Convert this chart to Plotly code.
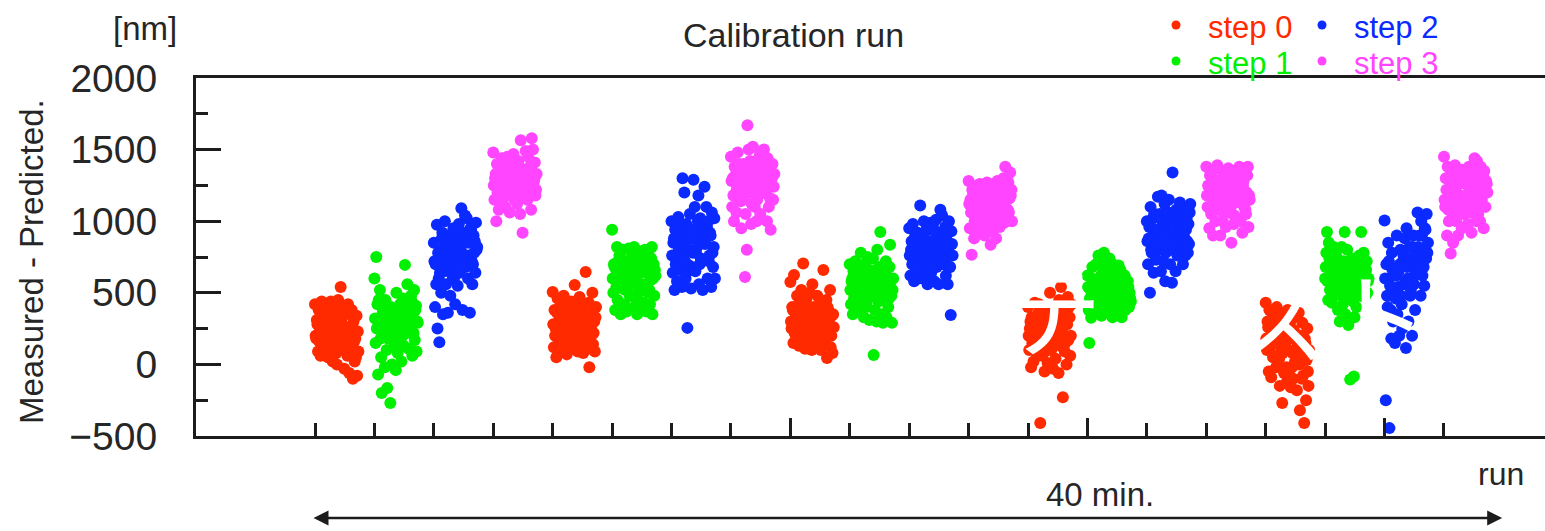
import plotly.graph_objects as go

# Measured - Predicted offset [nm] for every run, one inner list per calibration cycle
step0 = [
    [420, 200, 180, 310, 280, 90, 380, 160, 250, 60, 240, 440, 150, 310, 330, 210, 190, 100,
     270, 220, 400, 50, 150, 350, 130, 290, 440, 230, 260, 20, 300, 180, 170, 380, 320, 80,
     0, 230, 450, 200, 140, 320, 540, 300, 110, 260, 190, 400, -30, 260, 350, 150, 120, 60,
     420, 200, -60, 240, 110, 130, 380, 270, -100, 300, 160, 20, 180, 50, 340, -80, 230, 90],
    [505, 280, 120, 380, 200, 250, 50, 360, 460, 180, 240, 310, 90, 320, 420, 220, 170, 340,
     480, 240, 150, 290, 330, 70, 400, 190, 210, 350, 280, 110, 440, 370, 260, 130, 220, 320,
     555, 260, 200, 380, 320, 90, 300, 180, 470, 160, 400, 240, 420, 230, 80, 350, 290, 190,
     645, 250, 270, 110, 340, 430, -20, 180, 360, 200, 280, 500, 140, 220, 300, 90, 330, 400],
    [575, 300, 250, 400, 380, 150, 625, 220, 320, 200, 340, 480, 280, 260, 130, 430, 410, 350,
     520, 330, 180, 705, 240, 300, 110, 400, 450, 240, 290, 380, 160, 210, 500, 270, 360, 100,
     560, 310, 220, 400, 260, 130, 340, 380, 480, 190, 200, 290, 420, 330, 100, 360, 280, 250,
     660, 320, 300, 150, 240, 450, 45, 400, 380, 210, 280, 520, 120, 200, 340, 80, 350, 260],
    [400, 200, 100, 250, 300, -20, 330, 150, 180, 20, 240, 430, 140, 320, 280, 60, 120, 360,
     420, 260, -410, 200, 180, 60, 350, 320, 120, -50, 90, 300, 230, 240, 10, 380, 140, 160,
     500, 250, 100, 280, 310, -30, 400, 160, 180, 40, 360, 340, 220, 200, -60, 450, 280, 130,
     540, 220, 250, -230, 350, 380, 90, 150, 300, 0, 280, 470, 170, 400, 330, 60, 200, 420],
    [430, 180, 100, 300, 260, -50, 380, 120, 200, -90, 320, 250, 50, 60, 350, 150, 220, -20,
     400, 150, 0, 260, 40, -150, 320, 230, 100, -270, 80, 200, -60, 180, 360, 120, -20, -120,
     380, 100, -40, 250, 180, -160, 310, -20, 80, -100, 240, 200, 20, 60, 340, -180, 130, 150,
     360, 0, -320, 200, 120, -100, 290, -80, 50, -410, 180, 150, -250, 30, 250, -50, -150, 100],
]

step1 = [
    [600, 320, 150, 750, 250, 420, -70, 450, 300, 520, 180, 50, -200, 350, 380, 230, 280, -20,
     450, 280, 100, -165, 180, 330, 200, 360, -270, 400, 220, 0, 260, 300, 120, 350, 150, -40,
     500, 300, 80, 320, 240, 180, 420, 380, 20, 280, 200, 460, 130, 330, 695, 360, 260, 220,
     560, 350, 110, 400, 280, 250, 480, 440, 60, 330, 220, 520, 170, 380, 410, 90, 300, 290],
    [940, 600, 500, 700, 680, 380, 620, 540, 820, 450, 720, 560, 760, 580, 350, 660, 640, 530,
     800, 620, 420, 600, 520, 720, 370, 680, 540, 810, 560, 480, 650, 740, 390, 700, 600, 580,
     820, 580, 460, 610, 660, 350, 750, 500, 520, 680, 640, 400, 790, 720, 560, 430, 540, 710,
     800, 560, 370, 640, 680, 500, 760, 520, 420, 590, 740, 820, 350, 600, 700, 480, 660, 620],
    [700, 520, 420, 580, 600, 350, 650, 460, 480, 720, 640, 380, 540, 560, 620, 400, 500, 690,
     780, 580, 460, 620, 520, 330, 700, 640, 520, 400, 440, 750, 560, 600, 310, 660, 540, 480,
     500, 560, 740, 65, 480, 380, 600, 620, 300, 800, 520, 440, 680, 650, 925, 350, 460, 560,
     290, 540, 620, 450, 500, 720, 330, 620, 560, 400, 460, 680, 835, 580, 480, 290, 520, 600],
    [620, 540, 380, 150, 460, 520, 325, 600, 680, 450, 420, 580, 400, 560, 700, 500, 480, 360,
     760, 540, 420, 600, 620, 340, 680, 480, 500, 780, 580, 440, 560, 660, 720, 380, 520, 640,
     740, 580, 450, 620, 500, 330, 700, 640, 520, 400, 540, 660, 560, 600, 350, 690, 460, 480,
     660, 560, 330, 540, 480, 420, 600, 620, 380, 520, 500, 460, 580, 540, 400, 500, 460, 440],
    [600, 680, 780, 925, 580, 450, 850, 740, 520, 700, 620, 430, 640, 540, 820, 480, 660, 560,
     760, 640, 500, 380, 560, 680, 300, 700, 600, 820, 480, 420, 720, 620, 925, 350, 580, 540,
     800, 600, 275, 650, 520, -105, 480, 680, 740, 560, 440, -85, 330, 560, 700, 400, 640, 620,
     520, 620, 760, 480, 560, 925, 680, 700, 560, 780, 540, 470, 640, 660, 720, 500, 580, 600],
]

step2 = [
    [850, 720, 400, 700, 560, 975, 250, 780, 600, 155, 640, 800, 500, 880, 920, 350, 700, 650,
     1000, 740, 560, 760, 820, 360, 900, 680, 650, 480, 880, 830, 700, 600, 950, 600, 780, 420,
     720, 820, 880, 550, 700, 980, 640, 900, 800, 1090, 760, 380, 920, 860, 690, 1040, 680, 760,
     1020, 880, 600, 850, 760, 360, 950, 940, 720, 560, 700, 900, 780, 860, 640, 990, 800, 820],
    [1000, 760, 640, 850, 880, 520, 940, 700, 720, 580, 960, 1030, 800, 820, 660, 900, 740, 540,
     1300, 840, 760, 1200, 720, 600, 980, 940, 255, 870, 800, 690, 1050, 660, 530, 920, 880, 780,
     1290, 900, 1100, 650, 780, 950, 820, 1000, 1180, 560, 700, 1020, 740, 860, 880, 520, 940, 970,
     1240, 840, 880, 1100, 960, 600, 1000, 720, 760, 920, 900, 540, 1060, 780, 680, 820, 1020, 600],
    [950, 760, 620, 800, 860, 700, 980, 700, 580, 870, 900, 740, 660, 780, 920, 600, 840, 820,
     1110, 820, 700, 900, 760, 600, 1000, 880, 780, 650, 700, 950, 560, 940, 860, 720, 800, 990,
     640, 800, 850, 960, 720, 580, 780, 880, 1010, 680, 760, 900, 560, 920, 820, 1080, 700, 740,
     1040, 860, 700, 890, 740, 960, 620, 900, 800, 560, 800, 1000, 680, 680, 345, 930, 840, 760],
    [1000, 860, 700, 880, 960, 500, 1100, 800, 780, 950, 1020, 640, 1050, 900, 820, 730, 840, 920,
     1170, 940, 800, 1050, 840, 650, 1180, 1000, 900, 720, 900, 1120, 580, 780, 980, 860, 960, 1060,
     1150, 880, 700, 1000, 980, 570, 1340, 800, 820, 950, 920, 650, 1080, 1020, 760, 900, 860, 1040,
     1130, 920, 800, 960, 1000, 700, 1080, 860, 880, 760, 940, 1020, 860, 780, 980, 840, 1060, 1120],
    [1005, 600, -250, 700, 480, 400, 850, 720, -445, 550, 380, 180, 780, 660, 300, 620, 520, 150,
     460, 620, 900, 350, 540, 650, 200, 700, 800, 480, 420, 250, 720, 760, 560, 880, 580, 115,
     950, 680, 600, 300, 740, 820, 480, 520, 700, 200, 820, 900, 560, 620, 380, 760, 700, 640,
     1060, 820, 700, 900, 760, 480, 1000, 900, 620, 800, 680, 550, 950, 940, 740, 1050, 780, 850],
]

step3 = [
    [1480, 1250, 1150, 1300, 1330, 1000, 1400, 1200, 1220, 1080, 1380, 1350, 1260, 1280, 1440, 1120, 1180, 1310,
     1380, 1300, 1100, 1250, 1220, 1450, 1180, 1360, 1330, 1060, 1260, 1410, 1280, 1320, 1200, 1470, 1240, 1150,
     1230, 1300, 1360, 1120, 1200, 1420, 1280, 1380, 1050, 1565, 1250, 1190, 920, 1320, 1340, 1260, 1160, 1490,
     1300, 1260, 1150, 1450, 1350, 1230, 1380, 1200, 1080, 1580, 1400, 1500, 1270, 1290, 1410, 1180, 1220, 1330],
    [1450, 1280, 1100, 1300, 1180, 1000, 1380, 1320, 1200, 1060, 1230, 1480, 1250, 1400, 1150, 1350, 1140, 950,
     1150, 1260, 1400, 1300, 1180, 610, 1050, 1340, 800, 1670, 1220, 1500, 1200, 1420, 1350, 980, 1120, 1250,
     1520, 1250, 1280, 1100, 1330, 1420, 1000, 1150, 1350, 1180, 1380, 1460, 1050, 1200, 1300, 1230, 1290, 1400,
     1500, 1280, 1200, 1380, 1220, 1000, 1440, 1350, 1100, 1320, 1160, 940, 1250, 1300, 1400, 1150, 1240, 1330],
    [1280, 1120, 950, 1150, 1060, 765, 1220, 1180, 1050, 880, 1000, 1200, 1000, 1240, 1250, 920, 1080, 1100,
     1260, 1100, 980, 1150, 1200, 1230, 1040, 1050, 900, 1180, 1160, 1080, 1270, 1220, 950, 1120, 1020, 1000,
     835, 1080, 1250, 930, 1180, 1200, 1050, 1020, 1160, 880, 1140, 1280, 1000, 1220, 1110, 960, 1060, 1230,
     1070, 1200, 1100, 1300, 1120, 990, 1380, 1250, 1230, 1150, 1080, 1270, 1060, 1160, 1340, 1180, 1220, 1000],
    [1380, 1180, 1100, 1250, 1240, 950, 1320, 1080, 1050, 1200, 1300, 900, 1360, 1130, 1150, 1000, 1220, 1280,
     1390, 1200, 1080, 1280, 1140, 900, 1220, 1260, 1350, 1000, 1060, 1150, 1300, 1320, 960, 1240, 1180, 1120,
     1370, 1160, 1060, 1250, 1100, 850, 1190, 1240, 1320, 980, 1040, 1280, 1130, 1300, 1350, 1020, 1140, 1200,
     1380, 1220, 1000, 1300, 1160, 920, 1250, 1280, 1100, 1340, 1080, 1050, 1200, 1320, 1380, 960, 1180, 1150],
    [1450, 1150, 1100, 1300, 1220, 900, 1380, 1080, 1000, 1200, 1280, 775, 1350, 1120, 1050, 850, 1180, 1250,
     1390, 1200, 1000, 1250, 1120, 900, 1320, 1260, 1100, 1180, 1080, 950, 1360, 1300, 1050, 1280, 1160, 1150,
     1150, 1180, 1300, 980, 1240, 1380, 1060, 1100, 1220, 920, 1300, 1340, 1120, 1200, 1440, 1260, 1140, 1000,
     1420, 1180, 1050, 1300, 1240, 1000, 1380, 1120, 1150, 1250, 1320, 950, 1350, 1200, 1100, 1280, 1260, 1200],
]

step_names = ["step 0", "step 1", "step 2", "step 3"]
step_colors = ["#ff2a00", "#00f000", "#0a2aff", "#ff45ff"]
runs_per_cycle = 4          # one run slot per step inside a cycle
slot_fill = 0.73            # fraction of a run slot covered by the repeated measurements

y_ticks = [-500, 0, 500, 1000, 1500, 2000]

# figure geometry (pixels)
W, H = 1545, 531
ML, MR, MT, MB = 196, 0, 78, 95
run_px = 59.42
x_lo = -(315 - ML) / run_px
x_hi = x_lo + (W - ML - MR) / run_px

ink = "#1c1c1c"
txt = "#262626"
font_family = "Liberation Sans, Arial, Helvetica, sans-serif"


def px_x(px):
    return (px - ML) / (W - ML - MR)


def px_y(py):
    return (H - MB - py) / (H - MT - MB)


fig = go.Figure()

for s, (name, color, cycles) in enumerate(zip(step_names, step_colors,
                                             [step0, step1, step2, step3])):
    xs, ys = [], []
    for c, values in enumerate(cycles):
        n = len(values)
        start = c * runs_per_cycle + s
        for i, v in enumerate(values):
            xs.append(start + slot_fill * i / (n - 1))
            ys.append(v)
    fig.add_trace(go.Scatter(
        x=xs, y=ys, mode="markers", name=name, showlegend=False,
        marker=dict(size=12, color=color, line=dict(width=0)),
        hoverinfo="skip",
    ))

annotations = []


def text_at(px, py, text, size, color=txt, xanchor="center", angle=0, family=font_family):
    annotations.append(dict(
        x=px_x(px), y=px_y(py), xref="paper", yref="paper", text=text,
        showarrow=False, xanchor=xanchor, yanchor="middle", textangle=angle,
        font=dict(size=size, color=color, family=family),
    ))


text_at(793, 35, "Calibration run", 34)
text_at(145, 29, "[nm]", 33)
text_at(31, 262, "Measured - Predicted.", 33, angle=-90)
text_at(1501, 474, "run", 32)
text_at(1100, 494, "40 min.", 33)

# legend block (two columns)
legend_pos = [(1176, 25), (1176, 61), (1322, 25), (1322, 61)]
shapes = []
for name, color, (dx, dy) in zip(step_names, step_colors, legend_pos):
    shapes.append(dict(
        type="circle", xref="paper", yref="paper",
        xsizemode="pixel", ysizemode="pixel",
        xanchor=px_x(dx), yanchor=px_y(dy),
        x0=-4.5, x1=4.5, y0=-4.5, y1=4.5,
        fillcolor=color, line=dict(width=0),
    ))
    text_at(dx + 30, dy + 2, name, 31, color=color, xanchor="left")

# elapsed-time arrow under the run axis
annotations.append(dict(
    x=19.98, y=px_y(518), xref="x", yref="paper",
    ax=-0.05, ay=0, axref="x", ayref="pixel",
    text="", showarrow=True, arrowside="end+start",
    arrowhead=2, startarrowhead=2, arrowsize=1.2, startarrowsize=1.2,
    arrowwidth=2.5, arrowcolor=ink, standoff=0, startstandoff=0,
))

# white stamp lettering
text_at(1052, 305, "テ", 100, color="#ffffff", family="Noto Sans CJK JP")
text_at(1328, 313, "スト", 100, color="#ffffff", family="Noto Sans CJK JP")

fig.update_layout(
    width=W, height=H,
    margin=dict(l=ML, r=MR, t=MT, b=MB, pad=0),
    paper_bgcolor="white", plot_bgcolor="white",
    showlegend=False,
    font=dict(family=font_family, color=txt),
    xaxis=dict(
        range=[x_lo, x_hi], showgrid=False, zeroline=False,
        showline=True, linecolor=ink, linewidth=3, mirror=True,
        ticks="inside", tickmode="array", tickvals=[8, 13, 18],
        ticklen=18, tickwidth=3, tickcolor=ink, showticklabels=False,
        minor=dict(tickmode="array",
                   tickvals=[k for k in range(20) if k not in (8, 13, 18)],
                   ticks="inside", ticklen=13, tickwidth=3, tickcolor=ink),
    ),
    yaxis=dict(
        range=[-500, 2000], showgrid=False, zeroline=False,
        showline=True, linecolor=ink, linewidth=3, mirror=False,
        ticks="inside", tickmode="array", tickvals=y_ticks,
        ticklen=25, tickwidth=3, tickcolor=ink,
        tickfont=dict(size=39, color=txt, family=font_family),
        ticklabelstandoff=28,
        minor=dict(dtick=250, tick0=0, ticks="inside", ticklen=12,
                   tickwidth=3, tickcolor=ink),
    ),
    annotations=annotations,
    shapes=shapes,
)

fig.write_html("out.html", config={"displayModeBar": False})
